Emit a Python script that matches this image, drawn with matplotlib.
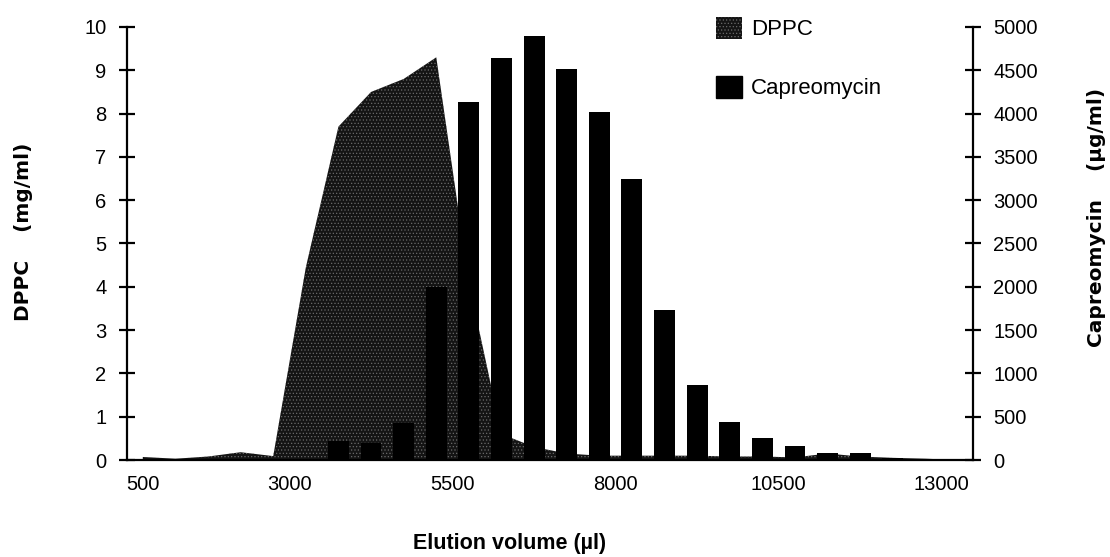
import matplotlib
matplotlib.use("Agg")
import matplotlib.pyplot as plt
from matplotlib.patches import Patch

# fraction mid-points (µl)
volume = [750, 1250, 1750, 2250, 2750, 3250, 3750, 4250, 4750, 5250,
          5750, 6250, 6750, 7250, 7750, 8250, 8750, 9250, 9750, 10250,
          10750, 11250, 11750, 12250, 12750, 13250]
dppc = [0.07, 0.03, 0.08, 0.18, 0.09, 4.45, 7.7, 8.5, 8.8, 9.3,
        4.1, 0.6, 0.3, 0.15, 0.1, 0.1, 0.1, 0.1, 0.08, 0.08,
        0.06, 0.15, 0.08, 0.05, 0.03, 0.0]
capreomycin = [0, 0, 0, 0, 0, 0, 220, 200, 430, 2000,
               4135, 4637, 4896, 4510, 4013, 3250, 1735, 865, 440, 255,
               160, 85, 85, 25, 10, 0]

xtick_vals = [500, 3000, 5500, 8000, 10500, 13000]
xtick_minor = [500, 5500, 10500]
left_ticks = list(range(0, 11))
right_ticks = list(range(0, 5001, 500))

tick_font = {"family": "Liberation Sans", "size": 14.5}
area_kw = dict(facecolor="#141414", edgecolor="#6a6a6a", hatch=".....", linewidth=0)

plt.rcParams["hatch.linewidth"] = 0.5

fig = plt.figure(figsize=(11.1, 5.57), dpi=100)
ax = fig.add_axes([126.5 / 1110, 97 / 557, (973 - 126.5) / 1110, 433 / 557])
ax2 = ax.twinx()

# DPPC as shaded area, capreomycin as bars on the right axis
ax.fill_between(volume, 0, dppc, **area_kw)
ax2.bar(volume, capreomycin, width=320, color="black", linewidth=0)

ax.set_xlim(500, 13480)
ax.set_ylim(0, 10)
ax2.set_ylim(0, 5000)

for a in (ax, ax2):
    for s in a.spines.values():
        s.set_linewidth(1.6)
    a.spines["top"].set_visible(False)
ax.spines["right"].set_visible(False)
ax2.spines["left"].set_visible(False)
ax2.spines["bottom"].set_visible(False)

ax.set_yticks(left_ticks)
ax.set_yticklabels([str(v) for v in left_ticks], fontdict=tick_font)
ax.tick_params(axis="y", direction="inout", length=12, width=1.6, pad=8.5)

ax2.set_yticks(right_ticks)
ax2.set_yticklabels([str(v) for v in right_ticks], fontdict=tick_font)
ax2.tick_params(axis="y", direction="inout", length=12, width=1.6, pad=8.5)

ax.set_xticks(xtick_vals)
labels = ax.set_xticklabels([str(v) for v in xtick_vals], fontdict=tick_font)
labels[0].set_horizontalalignment("left")
ax.set_xticks(xtick_minor, minor=True)
ax.tick_params(axis="x", which="major", length=0, pad=11)
ax.tick_params(axis="x", which="minor", direction="out", length=7, width=1.6)

fig.text(24 / 1110, 1 - 232 / 557, "DPPC    (mg/ml)", rotation=90, ha="center", va="center",
         family="DejaVu Sans", fontweight="bold", fontsize=14.5)
fig.text(1097 / 1110, 1 - 217 / 557, "Capreomycin    (\u00b5g/ml)", rotation=90, ha="center",
         va="center", family="DejaVu Sans", fontweight="bold", fontsize=14.5)
fig.text(510 / 1110, 1 - 543 / 557, "Elution volume (\u00b5l)", ha="center", va="center",
         family="Liberation Sans", fontweight="bold", fontsize=15.5)

handles = [Patch(**area_kw), Patch(facecolor="black", edgecolor="black")]
fig.legend(handles, ["DPPC", "Capreomycin"], loc="upper left",
           bbox_to_anchor=(716 / 1110, 1 - 17 / 557), frameon=False, borderpad=0,
           borderaxespad=0, handlelength=1.17, handleheight=1.13, labelspacing=1.6,
           handletextpad=0.4, prop={"family": "Liberation Sans", "size": 16})

fig.savefig("out.png", dpi=100)
